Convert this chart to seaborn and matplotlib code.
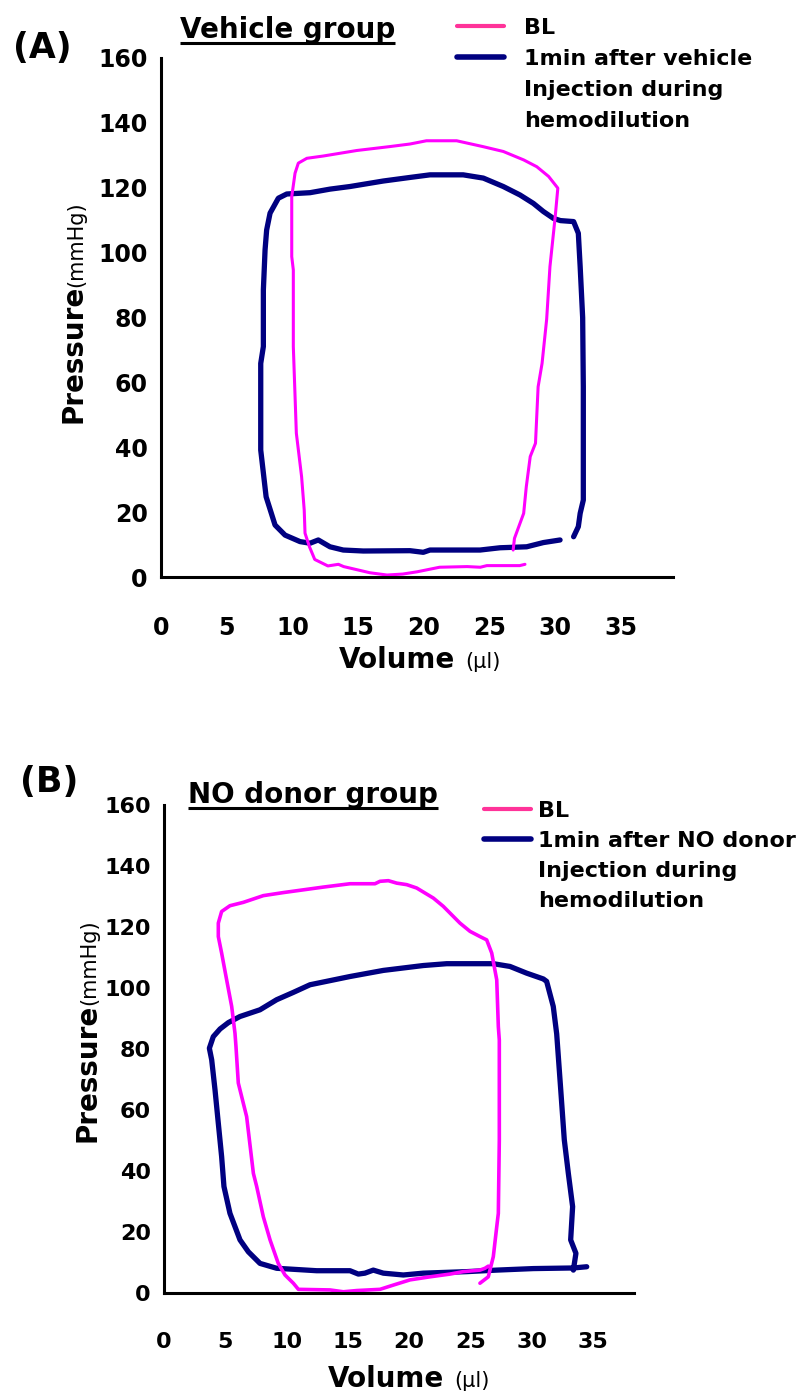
import matplotlib
matplotlib.use("Agg")
import matplotlib.pyplot as plt
from matplotlib.lines import Line2D
import pandas as pd
import seaborn as sns

# ---- Panel A: vehicle group (volume in µl, pressure in mmHg) ----
veh_bl_volume = [26.8, 26.9, 27.6, 27.8, 28.1, 28.5, 28.7, 29.0, 29.35, 29.6, 30.0, 30.2,
                 29.5, 28.6, 27.6, 26.05, 24.5, 22.5, 20.2, 18.95, 17.4, 14.9, 12.35, 11.1,
                 10.45, 10.2, 9.95, 9.95, 10.07, 10.07, 10.3, 10.7, 10.9, 10.96, 11.3, 11.7,
                 12.7, 13.5, 13.9, 15.9, 17.2, 18.4, 19.5, 21.2, 23.3, 24.3, 24.8, 27.3, 27.7]
veh_bl_pressure = [8.4, 12.0, 19.7, 27.9, 37.2, 41.3, 58.7, 65.9, 79.5, 95.7, 111.1, 119.9,
                   123.5, 126.5, 128.6, 131.2, 132.7, 134.5, 134.5, 133.5, 132.7, 131.5, 129.8, 129.1,
                   127.6, 124.5, 117.3, 98.8, 94.7, 71.1, 44.4, 31.0, 20.7, 13.6, 9.4, 5.5,
                   3.5, 4.0, 3.3, 1.4, 0.7, 1.0, 1.7, 3.1, 3.3, 3.1, 3.6, 3.6, 4.0]

veh_inj_volume = [31.4, 31.76, 31.9, 32.14, 32.14, 32.14, 32.09, 31.9, 31.76, 31.4, 30.4, 29.86,
                  29.1, 28.34, 27.32, 26.05, 24.53, 23.0, 20.47, 18.95, 16.92, 14.38, 12.86, 11.34,
                  9.57, 8.93, 8.3, 8.04, 7.92, 7.79, 7.79, 7.59, 7.59, 8.0, 8.68, 9.44,
                  10.58, 11.34, 11.97, 12.86, 13.87, 15.4, 18.95, 19.96, 20.47, 24.28, 25.8, 27.83,
                  29.1, 30.37]
veh_inj_pressure = [12.5, 15.6, 19.7, 23.8, 38.2, 58.7, 80.0, 95.7, 106.0, 109.6, 109.9, 110.6,
                    112.7, 115.2, 117.8, 120.4, 123.0, 124.0, 124.0, 123.2, 122.1, 120.4, 119.6, 118.5,
                    118.1, 116.8, 112.2, 107.0, 100.9, 88.5, 71.1, 65.9, 39.2, 24.8, 16.1, 13.0,
                    11.0, 10.5, 11.5, 9.4, 8.4, 8.1, 8.2, 7.7, 8.4, 8.4, 9.1, 9.4,
                    10.7, 11.5]

# ---- Panel B: NO donor group ----
no_bl_volume = [25.77, 26.45, 26.86, 27.14, 27.27, 27.35, 27.35, 27.27, 27.14, 26.73, 26.32, 25.77,
                24.96, 24.14, 22.78, 21.97, 20.61, 19.8, 18.98, 18.3, 17.62, 17.21, 15.17, 12.99,
                9.73, 8.1, 6.47, 5.38, 4.7, 4.43, 4.43, 4.7, 5.11, 5.52, 5.79, 5.87,
                6.06, 6.74, 7.29, 7.56, 8.1, 8.65, 9.32, 9.87, 10.55, 10.96, 13.54, 14.63,
                15.72, 17.62, 18.71, 20.07, 21.7, 23.33, 24.41, 25.77, 26.18, 26.45]
no_bl_pressure = [3.3, 5.4, 12.0, 21.8, 26.2, 50.3, 83.0, 87.4, 102.7, 111.5, 115.8, 116.9,
                  118.6, 121.3, 126.8, 129.5, 132.8, 133.9, 134.4, 135.2, 135.0, 134.2, 134.2, 133.1,
                  131.3, 130.3, 128.1, 127.0, 125.1, 121.3, 116.9, 111.5, 102.7, 94.0, 85.2, 80.9,
                  68.9, 57.9, 39.3, 35.0, 25.1, 17.5, 9.8, 6.0, 3.3, 1.3, 1.1, 0.5,
                  0.9, 1.3, 2.7, 4.4, 5.4, 6.3, 7.1, 7.6, 8.2, 8.9]

no_inj_volume = [33.39, 33.6, 33.17, 33.33, 32.98, 32.65, 32.36, 32.03, 31.75, 31.21, 30.94, 29.58,
                 28.22, 26.86, 23.06, 21.15, 17.89, 15.17, 11.91, 10.55, 9.19, 7.83, 6.2, 5.25,
                 4.57, 4.02, 3.7, 3.89, 4.16, 4.43, 4.7, 4.89, 5.38, 6.2, 6.88, 7.83,
                 9.19, 12.45, 15.17, 15.85, 16.39, 17.07, 17.89, 19.52, 21.15, 24.69, 27.14, 30.12,
                 33.39, 34.48]
no_inj_pressure = [7.6, 13.1, 17.5, 28.4, 39.3, 50.3, 66.7, 85.0, 94.0, 102.2, 103.0, 104.9,
                   107.1, 108.0, 108.0, 107.4, 105.8, 103.8, 101.1, 98.6, 96.2, 92.9, 90.7, 88.7,
                   86.6, 84.1, 80.3, 76.5, 66.7, 55.7, 44.8, 35.0, 26.2, 17.5, 13.6, 9.8,
                   8.2, 7.4, 7.4, 6.3, 6.6, 7.6, 6.6, 6.0, 6.6, 7.1, 7.6, 8.1,
                   8.3, 8.7]

x_ticks = [0, 5, 10, 15, 20, 25, 30, 35]
y_ticks = [0, 20, 40, 60, 80, 100, 120, 140, 160]

BL_COLOR = "#FF00FF"
BL_KEY_COLOR = "#FF3399"
INJ_COLOR = "#000080"

sns.set_theme(style="white")
plt.rcParams["font.family"] = ["DejaVu Sans"]
plt.rcParams["text.color"] = "black"
plt.rcParams["axes.labelcolor"] = "black"
plt.rcParams["xtick.color"] = "black"
plt.rcParams["ytick.color"] = "black"

W, H = 801, 1391
fig = plt.figure(figsize=(W / 100, H / 100), dpi=100)
fig.patch.set_facecolor("white")


def fx(x):
    return x / W


def fy(y):
    return 1 - y / H


def loop_frame(volume, pressure):
    return pd.DataFrame({"order": range(len(volume)), "Volume": volume, "Pressure": pressure})


def draw_panel(rect, xmax, bl, inj, bl_lw, inj_lw, tick_size):
    ax = fig.add_axes(rect)
    sns.lineplot(data=loop_frame(*inj), x="Volume", y="Pressure", sort=False,
                 estimator=None, color=INJ_COLOR, linewidth=inj_lw, ax=ax)
    sns.lineplot(data=loop_frame(*bl), x="Volume", y="Pressure", sort=False,
                 estimator=None, color=BL_COLOR, linewidth=bl_lw, ax=ax)
    ax.set_xlim(0, xmax)
    ax.set_ylim(0, 160)
    ax.set_xticks(x_ticks)
    ax.set_yticks(y_ticks)
    ax.set_xlabel("")
    ax.set_ylabel("")
    ax.set_facecolor("white")
    for side in ("top", "right"):
        ax.spines[side].set_visible(False)
    for side in ("left", "bottom"):
        ax.spines[side].set_color("black")
        ax.spines[side].set_linewidth(2.2)
    ax.tick_params(axis="both", which="major", direction="out", length=6, width=2.2,
                   color="black", labelsize=tick_size, labelcolor="black")
    ax.tick_params(axis="x", pad=22)
    ax.tick_params(axis="y", pad=3.5)
    for lab in ax.get_xticklabels() + ax.get_yticklabels():
        lab.set_fontweight("bold")
        lab.set_color("black")
    ax.grid(False)
    return ax


def add_legend(ax, anchor_px, label, textpad, spacing):
    handles = [Line2D([], [], color=BL_KEY_COLOR, lw=3.0),
               Line2D([], [], color=INJ_COLOR, lw=4.0),
               Line2D([], [], color="none"),
               Line2D([], [], color="none")]
    labels = ["BL", label, "Injection during", "hemodilution"]
    leg = ax.legend(handles, labels, loc="upper left",
                    bbox_to_anchor=(fx(anchor_px[0]), fy(anchor_px[1])),
                    bbox_transform=fig.transFigure, frameon=False, borderpad=0,
                    borderaxespad=0, handlelength=2.1, handletextpad=textpad,
                    labelspacing=spacing, prop={"size": 16, "weight": "bold"})
    for t in leg.get_texts():
        t.set_color("black")
    return leg


def underlined_title(x, y, text):
    t = fig.text(fx(x), fy(y), text, fontsize=20, fontweight="bold", ha="left",
                 va="baseline", color="black")
    fig.canvas.draw()
    bb = t.get_window_extent()
    yl = fy(y + 5)
    fig.add_artist(Line2D([bb.x0 / W, bb.x1 / W], [yl, yl], transform=fig.transFigure,
                          color="black", lw=2.2, solid_capstyle="butt"))


def axis_labels(vol_x, vol_y, pres_x, pres_y, mm_y):
    fig.text(fx(vol_x), fy(vol_y), "Volume", fontsize=20, fontweight="bold",
             ha="right", va="baseline", color="black")
    fig.text(fx(vol_x + 10), fy(vol_y), "(\u03bcl)", fontsize=15, ha="left",
             va="baseline", color="black")
    fig.text(fx(pres_x), fy(pres_y), "Pressure", fontsize=20, fontweight="bold",
             rotation=90, rotation_mode="anchor", ha="left", va="baseline", color="black")
    fig.text(fx(pres_x), fy(mm_y), "(mmHg)", fontsize=15, color="black",
             rotation=90, rotation_mode="anchor", ha="left", va="baseline")


# Panel A
axA = draw_panel([fx(161), fy(577.3), 39 * 13.14 / W, (577.3 - 58) / H], 39,
                 (veh_bl_volume, veh_bl_pressure), (veh_inj_volume, veh_inj_pressure),
                 2.2, 3.8, 17)
add_legend(axA, (457, 18), "1min after vehicle", 0.9, 0.5)
fig.text(fx(13), fy(58), "(A)", fontsize=25, fontweight="bold", ha="left",
         va="baseline", color="black")
underlined_title(180, 38, "Vehicle group")
axis_labels(455, 668, 82, 423, 287)

# Panel B
axB = draw_panel([fx(164), fy(1293.3), 38.3 * 12.26 / W, (1293.3 - 805) / H], 38.3,
                 (no_bl_volume, no_bl_pressure), (no_inj_volume, no_inj_pressure),
                 2.6, 3.8, 16)
add_legend(axB, (484, 801), "1min after NO donor", 0.35, 0.45)
fig.text(fx(20), fy(792), "(B)", fontsize=25, fontweight="bold", ha="left",
         va="baseline", color="black")
underlined_title(188, 803, "NO donor group")
axis_labels(444, 1387, 95, 1142, 1005)

fig.savefig("out.png", dpi=100, facecolor="white")
